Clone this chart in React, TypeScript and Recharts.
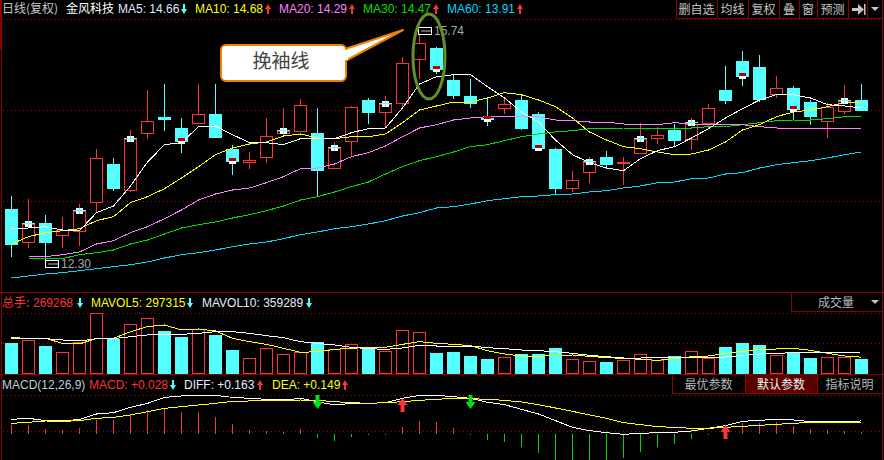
import React from "react";
import { ComposedChart, Bar, Line, XAxis, YAxis, ReferenceDot } from "recharts";

const opens = [13.07,12.57,12.86,12.68,12.74,13.17,13.74,13.35,14.21,14.45,14.28,14.36,14.49,13.97,13.77,13.85,14.21,14.24,14.21,13.68,14.09,14.7,14.52,14.66,15.32,15.48,15,14.76,14.43,14.58,14.7,14.49,13.97,13.38,13.62,13.85,13.76,13.91,14.13,14.25,14.12,14.36,14.85,15.29,15.2,14.79,14.88,14.67,14.39,14.54,14.7];
const closes = [12.54,12.84,12.57,12.75,13.04,13.83,13.38,14.12,14.39,14.42,14.09,14.49,14.15,13.79,13.8,14.16,14.24,14.63,13.65,13.98,14.6,14.52,14.64,15.26,15.56,15.17,14.78,14.66,14.42,14.64,14.28,13.98,13.38,13.5,13.77,13.74,13.77,14.12,14.18,14.1,14.34,14.58,14.7,15.06,14.72,14.88,14.57,14.46,14.6,14.69,14.55];
const highs = [13.26,13.22,12.98,12.95,13.14,13.97,13.83,14.25,14.85,14.94,14.43,14.94,14.94,14.03,13.92,14.43,14.58,14.72,14.58,14.07,14.61,14.73,14.76,15.35,15.74,15.5,15.09,15.02,14.73,14.72,14.78,14.52,13.98,13.64,13.85,13.94,13.85,14.36,14.3,14.34,14.43,14.64,15.21,15.44,15.38,15.06,14.91,14.7,14.66,14.93,14.94];
const lows = [12.35,12.48,12.3,12.48,12.51,13.01,13.34,13.32,14.12,14.24,13.91,14.36,14.13,13.58,13.67,13.76,14.18,14.24,13.26,13.67,13.85,14.34,14.28,14.6,15.02,15.09,14.72,14.58,14.31,14.49,14.25,13.98,13.28,13.32,13.46,13.7,13.43,13.91,14.04,14.01,13.95,14.28,14.64,14.91,14.67,14.73,14.4,14.33,14.13,14.49,14.54];
const ma5 = [12.77,12.78,12.8,12.75,12.74,13.01,13.11,13.41,13.77,14.03,14.06,14.3,14.31,14.18,14.06,14.06,14.03,14.12,14.12,14.12,14.21,14.27,14.28,14.58,14.94,15.05,15.08,15.08,14.9,14.73,14.52,14.37,14.1,13.88,13.76,13.68,13.64,13.82,13.94,14,14.13,14.27,14.43,14.57,14.7,14.78,14.78,14.73,14.63,14.61,14.58];
const ma10 = [12.54,12.65,12.71,12.74,12.77,12.89,12.95,13.16,13.25,13.37,13.53,13.7,13.88,13.98,14.04,14.07,14.16,14.19,14.13,14.12,14.15,14.15,14.19,14.36,14.55,14.61,14.67,14.67,14.73,14.81,14.78,14.7,14.6,14.43,14.22,14.1,14,13.97,13.92,13.88,13.89,13.95,14.07,14.25,14.33,14.45,14.52,14.55,14.6,14.66,14.67];
const ma20 = [null,12.35,12.35,12.38,12.42,12.54,12.59,12.71,12.8,12.92,13.05,13.2,13.29,13.35,13.38,13.46,13.55,13.67,13.68,13.74,13.85,13.91,14.01,14.15,14.28,14.33,14.4,14.43,14.45,14.45,14.46,14.45,14.4,14.39,14.37,14.37,14.34,14.33,14.33,14.36,14.34,14.34,14.33,14.33,14.3,14.28,14.27,14.27,14.27,14.27,14.28];
const ma30 = [null,12.33,12.32,12.32,12.38,12.41,12.45,12.54,12.6,12.69,12.78,12.83,12.87,12.93,12.98,13.04,13.11,13.2,13.25,13.32,13.4,13.47,13.59,13.7,13.79,13.85,13.92,14,14.03,14.09,14.15,14.19,14.22,14.24,14.27,14.27,14.28,14.28,14.28,14.28,14.28,14.3,14.3,14.33,14.36,14.39,14.4,14.4,14.42,14.45,14.46];
const ma60 = [12.03,12.06,12.09,12.11,12.14,12.17,12.2,12.23,12.27,12.33,12.38,12.41,12.45,12.5,12.54,12.57,12.62,12.68,12.72,12.77,12.8,12.84,12.89,12.96,13.01,13.08,13.1,13.14,13.19,13.22,13.25,13.26,13.28,13.29,13.32,13.34,13.38,13.41,13.46,13.47,13.52,13.53,13.59,13.61,13.68,13.73,13.76,13.79,13.83,13.88,13.92];
const flagIndex = [1,4,7,10,13,16,19,22,25,28,31,34,37,40,43,46,49];
const flagPrice = [12.84,13.04,14.12,14.09,13.79,14.24,13.98,14.64,15.17,14.42,13.98,13.77,14.12,14.36,15.06,14.57,14.69];
const flagKind = ["c","c","c","r","r","c","c","c","r","r","r","c","c","c","r","r","c"];
const volumes = [510000,555000,465000,375000,525000,960000,570000,795000,885000,690000,600000,720000,630000,405000,285000,435000,345000,375000,525000,420000,495000,420000,390000,705000,675000,360000,375000,315000,270000,300000,345000,345000,435000,270000,240000,225000,255000,345000,255000,315000,390000,285000,450000,510000,480000,330000,360000,285000,300000,300000,269268];
const mavol5 = [590000,580000,580000,505000,495000,580000,580000,680000,755000,780000,705000,720000,690000,580000,530000,490000,430000,370000,380000,415000,430000,445000,445000,490000,530000,505000,490000,470000,395000,345000,315000,310000,325000,330000,310000,290000,280000,265000,250000,275000,305000,315000,355000,385000,415000,420000,430000,400000,355000,315000,297315];
const mavol10 = [580000,575000,575000,555000,540000,575000,575000,605000,630000,635000,640000,655000,680000,680000,655000,620000,590000,530000,505000,480000,445000,425000,415000,435000,475000,465000,465000,465000,440000,425000,405000,395000,380000,355000,325000,305000,285000,285000,290000,290000,290000,290000,300000,325000,345000,355000,365000,370000,370000,370000,359289];
const diff = [0.183,0.196,0.167,0.163,0.183,0.25,0.267,0.333,0.383,0.458,0.475,0.483,0.483,0.458,0.446,0.433,0.425,0.446,0.404,0.363,0.383,0.383,0.392,0.446,0.483,0.483,0.467,0.446,0.396,0.367,0.308,0.25,0.167,0.083,0.042,0.017,-0.004,0.008,0.017,0.021,0.038,0.071,0.104,0.158,0.171,0.183,0.175,0.154,0.154,0.154,0.163];
const dea = [0.133,0.146,0.163,0.158,0.167,0.196,0.208,0.238,0.279,0.321,0.342,0.363,0.383,0.408,0.413,0.413,0.421,0.425,0.421,0.404,0.392,0.383,0.392,0.404,0.421,0.433,0.446,0.442,0.433,0.421,0.4,0.367,0.325,0.283,0.238,0.196,0.142,0.117,0.092,0.083,0.071,0.071,0.083,0.096,0.108,0.121,0.133,0.146,0.146,0.146,0.149];
const macd = [0.113,0.113,0.063,0.05,0.075,0.175,0.175,0.246,0.3,0.321,0.279,0.279,0.217,0.125,0.05,0.042,0.029,0.063,-0.05,-0.083,-0.042,-0.013,-0.008,0.092,0.163,0.15,0.075,-0.008,-0.075,-0.1,-0.158,-0.233,-0.325,-0.38,-0.4,-0.38,-0.296,-0.225,-0.158,-0.121,-0.063,-0.008,0.02,0.133,0.133,0.15,0.1,0.063,0.05,0.042,0.028];
const signalIndex = [18,23,27,42];
const signalValue = [0.406,0.3625,0.406,0.025];
const signalDir = ["down","up","down","up"];
const highIndex = 24;
const lowIndex = 2;
const highLabel = "15.74";
const lowLabel = "12.30";

const RED = "#ff3333";
const CYAN = "#54ffff";
const FONT = '"Liberation Sans","Noto Sans CJK SC",sans-serif';
const CJK = '"Noto Sans CJK SC","Liberation Sans",sans-serif';
const DARK = "#8c0000";
const LW = 884;
const MARGIN = { top: 0, right: 14, bottom: 0, left: 3 };

const rows = opens.map((o, i) => {
  const f = flagIndex.indexOf(i);
  return {
    day: String(i), open: o, close: closes[i], high: highs[i], low: lows[i],
    range: [lows[i], highs[i]], ma5: ma5[i], ma10: ma10[i], ma20: ma20[i], ma30: ma30[i], ma60: ma60[i],
    flag: f >= 0 ? flagPrice[f] : null, flagKind: f >= 0 ? flagKind[f] : "",
    vol: volumes[i], mavol5: mavol5[i], mavol10: mavol10[i], diff: diff[i], dea: dea[i], macd: macd[i],
  };
});

function Body({ x, y, w, h, up }: { x: number; y: number; w: number; h: number; up: boolean }) {
  return (
    <g shapeRendering="crispEdges">
      <rect x={x} y={y} width={w} height={h} fill={up ? RED : CYAN} />
      {up && h > 2 ? <rect x={x + 1} y={y + 1} width={w - 2} height={h - 2} fill="#000" /> : null}
    </g>
  );
}

function Candle(props: any) {
  const { x, y, width, height, payload } = props;
  const up = payload.close >= payload.open;
  const color = up ? RED : CYAN;
  const cx = Math.floor(x + width / 2);
  const k = height / (payload.high - payload.low);
  const top = Math.round(y + (payload.high - Math.max(payload.open, payload.close)) * k);
  const bot = Math.max(top + 1, Math.round(y + (payload.high - Math.min(payload.open, payload.close)) * k));
  return (
    <g>
      <rect x={cx} y={y} width={1} height={height} fill={color} shapeRendering="crispEdges" />
      <Body x={cx - 6} y={top} w={13} h={bot - top + 1} up={up} />
    </g>
  );
}

function FlagDot(props: any) {
  const { cx, cy, payload, index } = props;
  if (payload.flag == null || cy == null) return <g key={index} />;
  const x = Math.floor(cx) - 3;
  const y = Math.round(cy) - 3;
  return (
    <g key={index} shapeRendering="crispEdges">
      <rect x={x} y={y} width={7} height={6} fill="#fff" />
      {payload.flagKind === "r" ? (
        <rect x={x} y={y} width={7} height={3} fill="#b40000" />
      ) : (
        <>
          <rect x={x - 3} y={y + 2} width={13} height={1} fill={CYAN} />
          <rect x={x + 3} y={y} width={1} height={6} fill={CYAN} />
        </>
      )}
    </g>
  );
}

function VolBar(props: any) {
  const { x, y, width, height, payload } = props;
  const up = payload.close >= payload.open;
  return <Body x={Math.floor(x + width / 2) - 6} y={Math.round(y)} w={13} h={Math.round(height)} up={up} />;
}

function MacdBar(props: any) {
  const { x, y, width, height, payload } = props;
  const neg = payload.macd < 0;
  const top = Math.min(y, y + height);
  return (
    <rect x={Math.floor(x + width / 2)} y={Math.round(top)} width={1} height={Math.max(1, Math.round(Math.abs(height)))} fill={neg ? "#00d800" : RED} shapeRendering="crispEdges" />
  );
}

function ExtremeLabel(props: any) {
  const { cx, cy, text, low } = props;
  const x = Math.floor(cx) - (low ? 0 : 1);
  const y = Math.round(cy) - (low ? 0 : 4);
  return (
    <g>
      <rect x={x + 0.5} y={y + 0.5} width={13} height={7} fill="#000" stroke="#fff" strokeWidth={1} shapeRendering="crispEdges" />
      <line x1={x + 3} x2={x + 13} y1={y + 4} y2={y + 4} stroke="#bbb" strokeWidth={1} />
      <text x={x + 16} y={y + 8} fontFamily={FONT} fontSize={12} fill="#a3a9ae">{text}</text>
    </g>
  );
}

function SignalArrow(props: any) {
  const { cx, cy, dir } = props;
  const x = Math.floor(cx) + 0.5;
  const y = Math.round(cy);
  const color = dir === "up" ? RED : "#00e020";
  const pts = dir === "up"
    ? `${x},${y - 7} ${x + 5},${y} ${x + 2},${y} ${x + 2},${y + 7} ${x - 2},${y + 7} ${x - 2},${y} ${x - 5},${y}`
    : `${x},${y + 7} ${x + 5},${y} ${x + 2},${y} ${x + 2},${y - 7} ${x - 2},${y - 7} ${x - 2},${y} ${x - 5},${y}`;
  return <polygon points={pts} fill={color} />;
}

function Arrow({ x, y, up }: { x: number; y: number; up: boolean }) {
  const color = up ? RED : CYAN;
  const pts = up
    ? `${x},${y} ${x + 3},${y + 5} ${x + 1},${y + 5} ${x + 1},${y + 10} ${x - 1},${y + 10} ${x - 1},${y + 5} ${x - 3},${y + 5}`
    : `${x},${y + 10} ${x + 3},${y + 5} ${x + 1},${y + 5} ${x + 1},${y} ${x - 1},${y} ${x - 1},${y + 5} ${x - 3},${y + 5}`;
  return <polygon points={pts} fill={color} />;
}

function Label({ x, y, fill, children, size = 12, font = FONT }: any) {
  return <text x={x} y={y} fill={fill} fontSize={size} fontFamily={font}>{children}</text>;
}

const dotted = [19, 110, 201, 313, 343, 395, 431];
const solid = [292, 374];
const topCells: [string, number, number][] = [["删自选", 676, 717], ["均线", 717, 748], ["复权", 748, 779], ["叠", 779, 799], ["窗", 799, 817], ["预测", 817, 848]];
const macdCells: [string, number, number, boolean][] = [["最优参数", 672, 745, false], ["默认参数", 745, 817, true], ["指标说明", 817, 882, false]];

function Back() {
  return (
    <svg width={LW} height={460} style={{ position: "absolute", left: 0, top: 0 }} shapeRendering="crispEdges">
      {dotted.map((y) => (
        <line key={y} x1={3} x2={882} y1={y + 0.5} y2={y + 0.5} stroke="#b00000" strokeWidth={1} strokeDasharray="1 3" />
      ))}
      {solid.map((y) => (
        <line key={y} x1={0} x2={884} y1={y + 0.5} y2={y + 0.5} stroke={DARK} strokeWidth={1} />
      ))}
      <rect x={0} y={0} width={2} height={50} fill={DARK} />
      <line x1={1.5} x2={1.5} y1={50} y2={460} stroke={DARK} strokeWidth={1} />
      <line x1={882.5} x2={882.5} y1={0} y2={460} stroke={DARK} strokeWidth={1} />
    </svg>
  );
}

function Front() {
  return (
    <svg width={LW} height={460} style={{ position: "absolute", left: 0, top: 0 }}>
      <Label x={2} y={13} fill="#c8c8c8" font={CJK}>日线(复权)</Label>
      <Label x={66} y={13} fill="#ffffff" font={CJK}>金风科技</Label>
      <Label x={118} y={13} fill="#dfe8ff">MA5: 14.66</Label>
      <Arrow x={184} y={4} up={false} />
      <Label x={195} y={13} fill="#ffff00">MA10: 14.68</Label>
      <Arrow x={268} y={4} up />
      <Label x={279} y={13} fill="#ff80ff">MA20: 14.29</Label>
      <Arrow x={352} y={4} up />
      <Label x={363} y={13} fill="#00e000">MA30: 14.47</Label>
      <Arrow x={436} y={4} up />
      <Label x={447} y={13} fill="#00d8ff">MA60: 13.91</Label>
      <Arrow x={520} y={4} up />

      <g shapeRendering="crispEdges">
        {topCells.map(([t, a, b]) => (
          <g key={t}>
            <rect x={a + 0.5} y={-1} width={b - a} height={19.5} fill="#000" stroke={DARK} />
          </g>
        ))}
        <rect x={848.5} y={-1} width={19} height={19.5} fill="#000" stroke={DARK} />
        <rect x={867.5} y={-1} width={15} height={19.5} fill="#000" stroke={DARK} />
      </g>
      {topCells.map(([t, a, b]) => (
        <text key={t} x={(a + b) / 2} y={14} textAnchor="middle" fontSize={12} fontFamily={CJK} fill="#c4c4c4">{t}</text>
      ))}
      <polygon points="852,8 858,8 858,4 864,9.5 858,15 858,11 852,11" fill="#c4c4c4" />
      <rect x={864} y={4} width={1.5} height={11} fill="#c4c4c4" />
      <polygon points="871,7 879,7 875,11" fill="#c4c4c4" />

      <Label x={2} y={307} fill={RED} font={CJK}>总手:</Label>
      <Label x={33} y={307} fill={RED}>269268</Label>
      <Arrow x={80} y={298} up={false} />
      <Label x={91} y={307} fill="#ffff00">MAVOL5: 297315</Label>
      <Arrow x={190} y={298} up={false} />
      <Label x={202} y={307} fill="#e8ecff">MAVOL10: 359289</Label>
      <Arrow x={309} y={298} up={false} />
      <rect x={791.5} y={292.5} width={91} height={19} fill="#000" stroke={DARK} shapeRendering="crispEdges" />
      <text x={818} y={307} fontSize={12} fontFamily={CJK} fill="#b8b8b8">成交量</text>
      <polygon points="871,300 879,300 875,304" fill="#c4c4c4" />

      <Label x={2} y={389} fill="#c4ccd8">MACD(12,26,9)</Label>
      <Label x={89} y={389} fill={RED}>MACD: +0.028</Label>
      <Arrow x={173} y={380} up={false} />
      <Label x={184} y={389} fill="#e8ecff">DIFF: +0.163</Label>
      <Arrow x={260} y={380} up />
      <Label x={272} y={389} fill="#ffff00">DEA: +0.149</Label>
      <Arrow x={345} y={380} up />
      {macdCells.map(([t, a, b, on]) => (
        <g key={t}>
          <rect x={a + 0.5} y={374.5} width={b - a} height={19} fill={on ? "#560000" : "#000"} stroke={DARK} shapeRendering="crispEdges" />
          <text x={(a + b) / 2} y={389} textAnchor="middle" fontSize={12} fontFamily={CJK} fill={on ? "#f4f4f4" : "#b8b8b8"}>{t}</text>
        </g>
      ))}

      <polygon points="345,49 403,30 345,61" fill="#fff" stroke="#f08000" strokeWidth={2} strokeLinejoin="round" />
      <rect x={221} y={45} width={125} height={36} rx={5} fill="#fff" stroke="#f08000" strokeWidth={2} />
      <rect x={342} y={50} width={6} height={10} fill="#fff" />
      <text x={281} y={68} textAnchor="middle" fontSize={19} fontFamily={CJK} fill="#444">挽袖线</text>
      <ellipse cx={429} cy={56.5} rx={16} ry={42.5} fill="none" stroke="#638f2a" strokeWidth={3} />
    </svg>
  );
}

const axes = (domain: number[]) => [
  <XAxis key="x" dataKey="day" hide />,
  <YAxis key="y" hide domain={domain} allowDataOverflow />,
];

export default function App() {
  const lineProps = { dot: false, isAnimationActive: false, strokeWidth: 1, shapeRendering: "crispEdges", connectNulls: false } as any;
  return (
    <div style={{ position: "absolute", left: 0, top: 0, width: LW, height: 460, background: "#000", overflow: "hidden" }}>
      <Back />
      <div style={{ position: "absolute", left: 0, top: 20 }}>
        <ComposedChart width={LW} height={272} data={rows} margin={MARGIN}>
          {axes([11.82, 15.9])}
          <Bar dataKey="range" barSize={13} shape={<Candle />} isAnimationActive={false} />
          <Line dataKey="ma60" stroke="#00d8ff" {...lineProps} />
          <Line dataKey="ma30" stroke="#00e000" {...lineProps} />
          <Line dataKey="ma20" stroke="#ff80ff" {...lineProps} />
          <Line dataKey="ma10" stroke="#ffff00" {...lineProps} />
          <Line dataKey="ma5" stroke="#ffffff" {...lineProps} />
          <Line dataKey="flag" stroke="none" legendType="none" dot={(p: any) => <FlagDot {...p} key={p.index} />} activeDot={false} isAnimationActive={false} />
          <ReferenceDot x={String(highIndex)} y={highs[highIndex]} ifOverflow="visible" shape={(p: any) => <ExtremeLabel {...p} text={highLabel} />} />
          <ReferenceDot x={String(lowIndex)} y={lows[lowIndex]} ifOverflow="visible" shape={(p: any) => <ExtremeLabel {...p} text={lowLabel} low />} />
        </ComposedChart>
      </div>
      <div style={{ position: "absolute", left: 0, top: 294 }}>
        <ComposedChart width={LW} height={80} data={rows} margin={MARGIN}>
          {axes([45000, 1245000])}
          <Bar dataKey="vol" barSize={13} shape={<VolBar />} isAnimationActive={false} />
          <Line dataKey="mavol5" stroke="#ffff00" {...lineProps} />
          <Line dataKey="mavol10" stroke="#ffffff" {...lineProps} />
        </ComposedChart>
      </div>
      <div style={{ position: "absolute", left: 0, top: 394 }}>
        <ComposedChart width={LW} height={66} data={rows} margin={MARGIN}>
          {axes([-0.325, 0.5])}
          <Bar dataKey="macd" barSize={13} shape={<MacdBar />} isAnimationActive={false} />
          <Line dataKey="diff" stroke="#ffffff" {...lineProps} />
          <Line dataKey="dea" stroke="#ffff00" {...lineProps} />
          {signalIndex.map((s, i) => (
            <ReferenceDot key={s} x={String(s)} y={signalValue[i]} ifOverflow="visible" shape={(p: any) => <SignalArrow {...p} dir={signalDir[i]} />} />
          ))}
        </ComposedChart>
      </div>
      <Front />
    </div>
  );
}
